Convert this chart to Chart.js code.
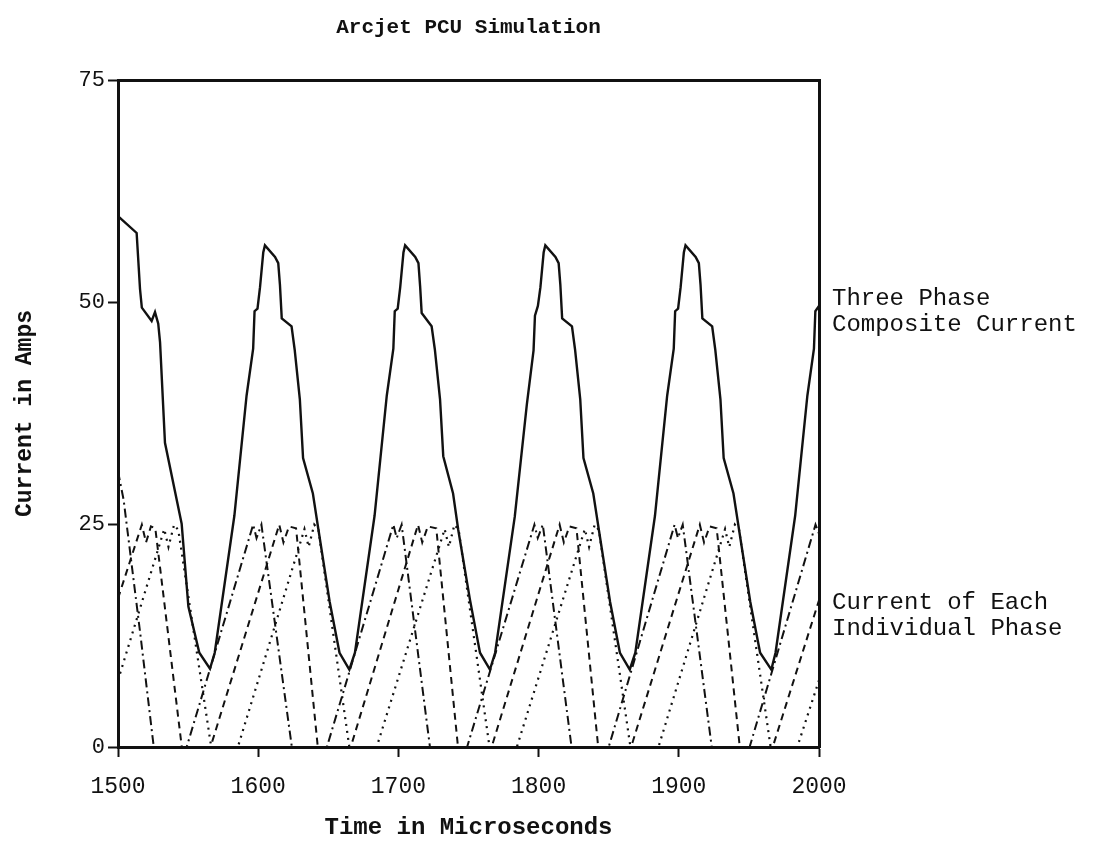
<!DOCTYPE html>
<html>
<head>
<meta charset="utf-8">
<title>Arcjet PCU Simulation</title>
<script src="https://cdn.jsdelivr.net/npm/chart.js"></script>
<style>
  html, body { margin: 0; padding: 0; background: #fff; }
  #grafo { width: 1095px; height: 842px; }
</style>
</head>
<body>
<div id="grafo"><canvas id="arcjet" width="1095" height="842"></canvas></div>
<script>
// axis ticks
const xTicks = [1500, 1600, 1700, 1800, 1900, 2000]
const yTicks = [0, 25, 50, 75]

// labels on the right hand side, [amps, text]
const sideLabels = [
  [49, ['Three Phase', 'Composite Current']],
  [14.8, ['Current of Each', 'Individual Phase']]
]

// [time in microseconds, current in amps]
const composite = [
  [1500, 59.7], [1513.3, 57.8], [1515.7, 51.5], [1517, 49.4], [1524, 47.9], [1526.4, 48.9],
  [1528.7, 47.6], [1530, 45.5], [1533.5, 34.2], [1545.4, 25.1], [1550.2, 15.8], [1558, 10.6], [1565.6, 8.8],
  [1569, 10.6], [1583, 26], [1591.7, 39.5], [1596.4, 44.8], [1597.4, 49], [1599.5, 49.3], [1601.3, 51.7],
  [1603.6, 55.6], [1604.8, 56.4], [1612, 55.1], [1614.3, 54.4], [1615.5, 52], [1616.8, 48.2], [1623.8, 47.3],
  [1626, 44.7], [1629.7, 39.1], [1632, 32.5], [1639, 28.5], [1643, 24.4], [1651, 16.3], [1658, 10.6], [1665, 8.7],
  [1669, 10.6], [1683, 26], [1691.7, 39.5], [1696.4, 44.8], [1697.4, 49], [1699.5, 49.3], [1701.3, 51.7],
  [1703.6, 55.6], [1704.8, 56.4], [1712, 55.1], [1714.3, 54.4], [1715.5, 51.8], [1716.6, 48.8], [1723.7, 47.3],
  [1726, 44.7], [1729.7, 39.1], [1732, 32.7], [1739, 28.5], [1742.7, 24.4], [1751, 16.6], [1758.2, 10.6], [1765.3, 8.7],
  [1769, 10.6], [1783, 25.9], [1791.6, 38.5], [1796.4, 44.6], [1797.4, 48.5], [1799.5, 49.6], [1801.3, 51.7],
  [1803.6, 55.6], [1804.8, 56.4], [1812, 55.1], [1814.3, 54.4], [1815.5, 52], [1816.8, 48.2], [1823.8, 47.3],
  [1826, 44.7], [1829.7, 39.1], [1832, 32.5], [1839, 28.5], [1843, 24.4], [1851, 16.3], [1858, 10.6], [1865, 8.7],
  [1869, 10.6], [1883, 26], [1891.7, 39.5], [1896.4, 44.8], [1897.4, 49], [1899.5, 49.3], [1901.3, 51.7],
  [1903.6, 55.6], [1904.8, 56.4], [1912, 55.1], [1914.3, 54.4], [1915.5, 52], [1916.8, 48.2], [1923.8, 47.3],
  [1926, 44.7], [1929.7, 39.1], [1932, 32.5], [1939, 28.5], [1943, 24.4], [1951, 16.3], [1958, 10.6], [1966, 8.7],
  [1969, 10.6], [1983, 26], [1991.7, 39.5], [1996.4, 44.8], [1997.4, 49], [2000, 49.6]
]

// phase drawn dash-dot
const phaseA = [
  [1500, 31], [1504, 27.8], [1516, 12.6], [1525.5, 0], [1549, 0],
  [1596.4, 25], [1598.8, 23.5], [1602.3, 25], [1624, 0], [1649, 0],
  [1696.4, 25], [1698.8, 23.5], [1702.3, 25], [1722.5, 0], [1749, 0],
  [1797, 25], [1799.4, 23.5], [1803, 25], [1823.5, 0], [1850, 0],
  [1897, 25], [1899.4, 23.5], [1902.8, 25], [1923.5, 0], [1950.5, 0],
  [1997.5, 25], [2000, 24]
]

// phase drawn dashed
const phaseB = [
  [1500, 16.7], [1517, 25], [1520, 23], [1523.5, 24.8], [1526.6, 24.6], [1545.5, 0], [1566, 0],
  [1615, 25], [1618, 23], [1622, 24.8], [1627, 24.6], [1642.5, 0], [1666, 0],
  [1714, 25], [1717, 23], [1721, 24.8], [1727, 24.6], [1742.5, 0], [1766.5, 0],
  [1815, 25], [1818, 23], [1822, 24.8], [1827, 24.6], [1842.5, 0], [1866, 0],
  [1915, 25], [1918, 23], [1922, 24.8], [1927, 24.6], [1943.5, 0], [1967, 0],
  [2000, 16.5]
]

// phase drawn dotted
const phaseC = [
  [1500, 7.5], [1533, 24.5], [1536, 22.5], [1540, 25], [1543, 24.4], [1566.5, 0], [1585.5, 0],
  [1633, 24.5], [1636, 22.5], [1640, 25], [1643, 24.4], [1665, 0], [1684.5, 0],
  [1733, 24.5], [1736, 22.5], [1740, 25], [1743, 24.4], [1765, 0], [1784.5, 0],
  [1833, 24.5], [1836, 22.5], [1840, 25], [1843, 24.4], [1865.5, 0], [1885.5, 0],
  [1933, 24.5], [1936, 22.5], [1940, 25], [1943, 24.4], [1965.5, 0], [1984.5, 0],
  [2000, 7.5]
]

function pts(lista){
  return lista.map(p => ({x: p[0], y: p[1]}))
}

const tinta = '#111'
const mono = 'Liberation Mono'

function linha(label, lista, width, dash){
  return {
    label: label,
    data: pts(lista),
    borderColor: tinta,
    borderWidth: width,
    borderDash: dash,
    pointRadius: 0,
    tension: 0,
    fill: false
  }
}

const semGrade = {drawOnChartArea: false, drawTicks: false}
const moldura = {display: true, color: tinta, width: 3}

new Chart(document.getElementById('arcjet'), {
  type: 'line',
  data: {
    datasets: [
      linha('Three Phase Composite Current', composite, 2.4, []),
      linha('Phase 1', phaseA, 2, [9, 4, 2, 4]),
      linha('Phase 2', phaseB, 2, [7, 5]),
      linha('Phase 3', phaseC, 2.2, [2, 5])
    ]
  },
  options: {
    responsive: false,
    animation: false,
    devicePixelRatio: 1,
    layout: {padding: 0},
    plugins: {
      legend: {display: false},
      tooltip: {enabled: false},
      title: {display: false}
    },
    scales: {
      x: {
        type: 'linear',
        position: 'bottom',
        min: 1500,
        max: 2000,
        afterBuildTicks: s => { s.ticks = xTicks.map(v => ({value: v})) },
        afterFit: s => { s.height = 95 },
        ticks: {color: tinta, font: {family: mono, size: 23}, padding: 16, maxRotation: 0,
          callback: v => String(v)},
        grid: {drawOnChartArea: false, drawTicks: true, tickLength: 10, tickWidth: 2, color: tinta},
        border: moldura,
        title: {display: true, text: 'Time in Microseconds', color: tinta,
          font: {family: mono, size: 24, weight: 'bold'}, padding: {top: 0, bottom: 0}}
      },
      x2: {
        type: 'linear',
        position: 'top',
        min: 1500,
        max: 2000,
        afterFit: s => { s.height = 80 },
        ticks: {display: false},
        grid: semGrade,
        border: moldura,
        title: {display: true, text: 'Arcjet PCU Simulation', color: tinta,
          font: {family: mono, size: 21, weight: 'bold'}, padding: {top: 15, bottom: 0}}
      },
      y: {
        type: 'linear',
        position: 'left',
        min: 0,
        max: 75,
        afterBuildTicks: s => { s.ticks = yTicks.map(v => ({value: v})) },
        afterFit: s => { s.width = 118 },
        ticks: {color: tinta, font: {family: mono, size: 22}, padding: 3},
        grid: {drawOnChartArea: false, drawTicks: true, tickLength: 10, tickWidth: 2, color: tinta},
        border: moldura,
        title: {display: true, text: 'Current in Amps', color: tinta,
          font: {family: mono, size: 23, weight: 'bold'}, padding: {top: 11, bottom: 0}}
      },
      y2: {
        type: 'linear',
        position: 'right',
        min: 0,
        max: 75,
        afterBuildTicks: s => { s.ticks = sideLabels.map(l => ({value: l[0]})) },
        afterFit: s => { s.width = 276 },
        ticks: {
          color: tinta,
          autoSkip: false,
          font: {family: mono, size: 24, lineHeight: 1.08},
          padding: 13,
          callback: (v, i) => sideLabels[i][1]
        },
        grid: semGrade,
        border: moldura
      }
    }
  }
})
</script>
</body>
</html>
